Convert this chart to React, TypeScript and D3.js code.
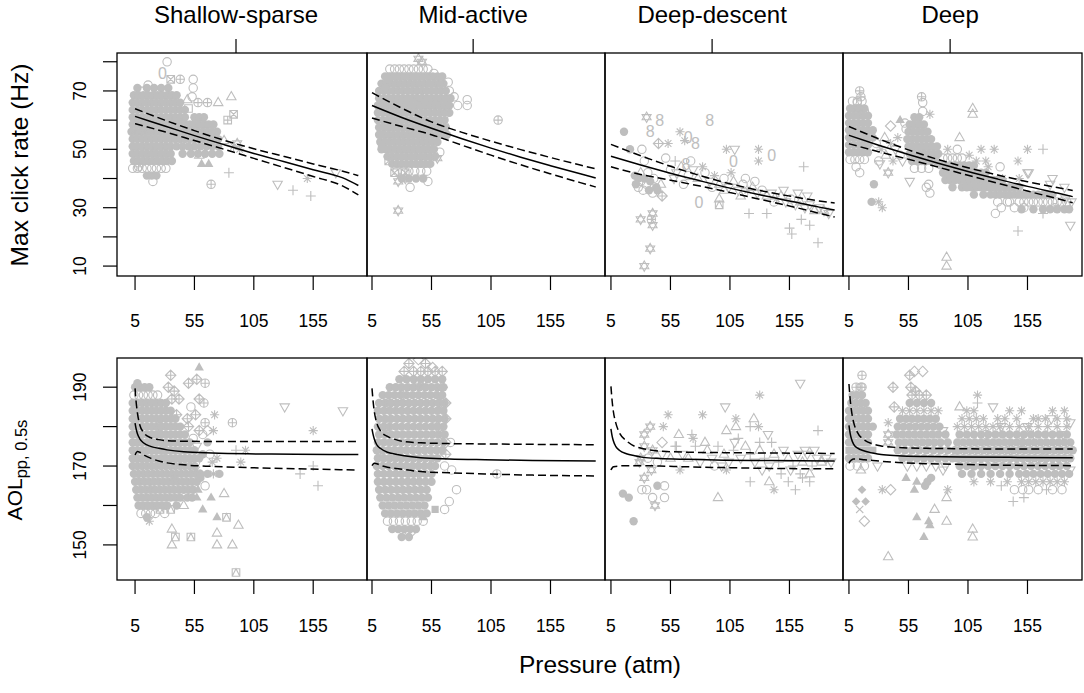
import * as d3 from 'd3';

type Pch = number | string;
type Pt = [number, number, Pch];
type Row = [number, number[], Pch];

const panelTitles = ['Shallow-sparse', 'Mid-active', 'Deep-descent', 'Deep'];
const xTicks = [5, 55, 105, 155];
const titleTickAt = 90;
const clickTicks = [10, 20, 30, 40, 50, 60, 70, 80];
const clickLabels = [10, 30, 50, 70];
const aolTicks = [150, 160, 170, 180, 190];
const aolLabels = [150, 170, 190];

// fitted curves (top row: max click rate, bottom row: AOL)
const fitXTop = [5, 30, 55, 80, 105, 130, 155, 180, 193];
const clickShallowFit = [61.3, 58.0, 54.7, 51.6, 48.6, 45.8, 43.0, 40.2, 37.6];
const clickShallowHi = [63.9, 60.0, 56.4, 53.1, 50.2, 47.6, 45.0, 42.5, 41.0];
const clickShallowLo = [58.8, 56.0, 53.0, 50.0, 46.9, 43.8, 40.7, 37.4, 34.4];
const clickMidFit = [65.0, 60.9, 57.2, 53.7, 50.4, 47.3, 44.4, 41.6, 40.2];
const clickMidHi = [69.4, 64.1, 59.4, 55.9, 52.8, 49.9, 47.2, 44.6, 43.3];
const clickMidLo = [60.7, 57.8, 55.0, 51.5, 48.0, 44.7, 41.6, 38.6, 37.1];
const clickDescentFit = [47.6, 44.6, 41.8, 39.2, 36.7, 34.4, 32.3, 30.2, 29.2];
const clickDescentHi = [51.7, 47.8, 44.2, 41.0, 38.2, 35.9, 34.0, 32.3, 31.6];
const clickDescentLo = [44.0, 41.4, 39.4, 37.4, 35.2, 32.9, 30.6, 28.1, 26.8];
const clickDeepFit = [54.8, 51.4, 48.2, 45.2, 42.4, 39.8, 37.3, 35.0, 33.8];
const clickDeepHi = [57.8, 53.6, 49.8, 46.5, 43.7, 41.2, 38.9, 36.9, 35.9];
const clickDeepLo = [51.9, 49.2, 46.6, 43.9, 41.1, 38.4, 35.7, 33.1, 31.7];

const fitXBot = [5, 6, 7, 9, 12, 18, 25, 32, 46, 70, 100, 140, 193];
const aolShallowFit = [180.9, 179.3, 178.2, 176.9, 175.9, 175.0, 174.5, 174.1, 173.6, 173.3, 173.1, 173.0, 172.9];
const aolShallowHi = [189.7, 186.0, 183.5, 180.4, 178.6, 177.2, 176.7, 176.4, 176.3, 176.2, 176.2, 176.2, 176.2];
const aolShallowLo = [172.8, 173.4, 173.7, 173.5, 172.9, 172.0, 171.3, 170.8, 170.3, 169.9, 169.6, 169.3, 169.0];
const aolMidFit = [179.4, 177.9, 176.8, 175.4, 174.5, 173.5, 173.0, 172.6, 172.1, 171.8, 171.6, 171.4, 171.3];
const aolMidHi = [189.7, 186.2, 183.7, 180.9, 179.0, 177.5, 176.7, 176.2, 175.9, 175.7, 175.6, 175.5, 175.4];
const aolMidLo = [170.1, 170.5, 170.7, 170.6, 170.2, 169.7, 169.4, 169.1, 168.6, 168.3, 168.0, 167.7, 167.5];
const aolDescentFit = [179.4, 177.6, 176.4, 175.0, 174.0, 173.1, 172.6, 172.2, 171.9, 171.7, 171.5, 171.4, 171.3];
const aolDescentHi = [190.2, 186.5, 183.9, 181.0, 178.5, 176.4, 175.0, 174.4, 173.8, 173.5, 173.4, 173.3, 173.2];
const aolDescentLo = [169.0, 169.5, 169.8, 169.9, 170.0, 170.1, 170.1, 170.1, 170.0, 169.8, 169.6, 169.4, 169.3];
const aolDeepFit = [180.3, 178.3, 177.0, 175.5, 174.6, 173.8, 173.3, 172.9, 172.6, 172.4, 172.3, 172.2, 172.1];
const aolDeepHi = [190.8, 187.0, 184.3, 181.0, 178.6, 176.6, 175.6, 175.1, 174.7, 174.5, 174.4, 174.3, 174.3];
const aolDeepLo = [170.7, 171.2, 171.5, 171.8, 171.8, 171.6, 171.4, 171.2, 170.9, 170.6, 170.4, 170.2, 170.1];

// observations: dense clouds as rows [y, xs, pch], scattered points as [x, y, pch]
const clickShallowRows: Row[] = [
  [71, [7, 15, 21, 27, 33], 16],
  [68.5, [4, 8, 12, 16, 20, 24, 28, 32, 36, 40], 16],
  [66, [3, 7, 11, 15, 19, 23, 27, 31, 35, 39, 43], 16],
  [64.8, [5, 13, 21, 29, 37], 0],
  [63.5, [3, 7, 11, 15, 19, 23, 27, 31, 35, 39, 43, 47], 16],
  [61, [3, 7, 11, 15, 19, 23, 27, 31, 35, 39, 43, 47, 55, 59, 63], 16],
  [59.8, [9, 17, 25, 33, 41, 57], 0],
  [58.5, [3, 7, 11, 15, 19, 23, 27, 31, 35, 39, 43, 47, 51, 55, 59, 63, 67, 71], 16],
  [56, [2, 6, 10, 14, 18, 22, 26, 30, 34, 38, 42, 46, 50, 54, 58, 62, 66, 70, 74], 16],
  [54.8, [5, 13, 21, 29, 37, 45, 61, 69], 10],
  [53.5, [3, 7, 11, 15, 19, 23, 27, 31, 35, 39, 43, 47, 51, 55, 59, 63, 67, 71, 75], 16],
  [51, [3, 7, 11, 15, 19, 23, 27, 31, 35, 40, 45, 50, 55, 60, 65, 70, 75], 16],
  [49.8, [9, 17, 25, 33, 48, 56], 0],
  [48.5, [3, 7, 11, 15, 19, 23, 27, 31, 35, 45, 52, 58, 64, 70, 76], 16],
  [46, [4, 8, 12, 16, 20, 24, 28, 32, 36], 16],
  [43.5, [3, 7, 11, 15, 19, 23, 27, 31], 1],
  [41, [15, 19, 23], 16],
];
const clickShallowOut: Pt[] = [
  [32, 80, 1], [28, 76, '0'], [35, 74, 7], [43, 74, 10], [54, 74, 1], [16, 72, 1], [11, 70, 0], [54, 71, 1],
  [53, 68, 1], [58, 66, 10], [66, 66, 10], [75, 66, 2], [86, 68, 2], [49, 67, 2], [50, 64, 0], [88, 62, 7],
  [83, 60, 12], [80, 53, 2], [88, 51, 8], [91, 52, 11], [93, 50, 8], [84, 42, 3], [69, 38, 10], [125, 38, 6],
  [138, 36, 3], [153, 34, 3], [150, 40, 8], [174, 42, 6], [61, 45, 17], [67, 45, 17], [59, 48, 2], [48, 55, 0],
  [20, 39, 1], [8, 44, 10],
];

const clickMidRows: Row[] = [
  [77.5, [20, 24, 28, 32, 36, 40, 44, 48, 52], 1],
  [75, [16, 20, 24, 28, 32, 36, 40, 44, 48, 52, 56, 60, 64], 16],
  [72.5, [13, 17, 21, 25, 29, 33, 37, 41, 45, 49, 53, 57, 61, 65], 16],
  [70, [11, 15, 19, 23, 27, 31, 35, 39, 43, 47, 51, 55, 59, 63, 67], 16],
  [67.5, [11, 15, 19, 23, 27, 31, 35, 39, 43, 47, 51, 55, 59, 63, 67, 71], 16],
  [65, [10, 14, 18, 22, 26, 30, 34, 38, 42, 46, 50, 54, 58, 62, 66, 70], 16],
  [62.5, [10, 14, 18, 22, 26, 30, 34, 38, 42, 46, 50, 54, 58, 62, 66, 70], 16],
  [60, [10, 14, 18, 22, 26, 30, 34, 38, 42, 46, 50, 54, 58, 62, 66], 16],
  [57.5, [11, 15, 19, 23, 27, 31, 35, 39, 43, 47, 51, 55, 59, 63, 67], 16],
  [55, [11, 15, 19, 23, 27, 31, 35, 39, 43, 47, 51, 55, 59, 63, 68], 16],
  [52.5, [12, 16, 20, 24, 28, 32, 36, 40, 44, 48, 52, 56, 60], 16],
  [50, [13, 17, 21, 25, 29, 33, 37, 41, 45, 49, 53, 57], 16],
  [47.5, [18, 22, 26, 30, 34, 38, 42, 46, 50, 54, 58], 16],
  [45, [22, 26, 30, 34, 38, 42, 46, 50, 54], 16],
  [42.5, [26, 31, 36, 41, 46, 51], 1],
  [40, [30, 36, 42, 48], 16],
];
const clickMidOut: Pt[] = [
  [27, 29, 11], [44, 81, 11], [47, 80, 11], [111, 60, 10], [85, 67, 1], [85, 65, 1], [74, 68, 1], [77, 65, 1],
  [70, 70, 1], [69, 73, 1], [13, 51, 15], [12, 55, 15], [19, 46, 7], [24, 42, 7], [33, 42, 7], [27, 39, 11],
  [33, 40, 11], [37, 37, 1], [52, 39, 1], [60, 47, 11], [62, 49, 1], [18, 74, 16], [16, 71, 16], [66, 58, 1],
  [57, 76, 1], [63, 72, 1], [66, 62, 1], [21, 60, 0], [45, 68, 1], [37, 63, 1],
];

const clickDescentOut: Pt[] = [
  [35, 61, 11], [46, 60, '8'], [38, 56, '8'], [16, 56, 16], [88, 60, '8'], [63, 56, 8], [67, 53, 8], [70, 54, '0'],
  [76, 52, '8'], [45, 52, 9], [53, 52, 8], [21, 50, 16], [31, 50, 1], [102, 50, 8], [109, 50, 6], [108, 46, '0'],
  [129, 50, 8], [129, 46, 8], [140, 48, '0'], [167, 44, 3], [33, 46, 1], [51, 47, 1], [59, 46, 3], [68, 45, '8'],
  [82, 44, 8], [25, 41, 16], [28, 40, 16], [30, 39, 1], [33, 40, 16], [35, 38, 1], [38, 39, 16], [41, 40, 1],
  [43, 37, 16], [28, 37, 1], [32, 36, 1], [37, 36, 16], [40, 35, 1], [44, 36, 16], [47, 38, 2], [26, 38, 16],
  [30, 42, 2], [36, 42, 1], [48, 34, 9], [79, 32, '0'], [96, 31, 14], [96, 33, 2], [121, 28, 3], [136, 28, 3],
  [155, 23, 3], [165, 26, 3], [172, 24, 3], [157, 21, 3], [179, 18, 3], [30, 26, 11], [40, 28, 11], [40, 24, 11],
  [38, 16, 11], [33, 10, 11], [39, 26, 10],
  [55, 43, 1], [60, 42, 6], [64, 44, 2], [70, 41, 1], [74, 43, 6], [78, 40, 2], [84, 42, 1], [88, 39, 6],
  [92, 41, 8], [96, 38, 2], [100, 40, 1], [104, 37, 6], [108, 39, 2], [112, 36, 6], [116, 38, 1], [120, 36, 8],
  [124, 37, 2], [128, 35, 6], [132, 36, 1], [136, 34, 2], [140, 35, 6], [144, 33, 8], [148, 34, 2], [152, 32, 6],
  [156, 33, 1], [160, 31, 6], [164, 32, 2], [168, 30, 6], [172, 31, 6], [176, 29, 2], [180, 30, 6], [184, 29, 11],
  [188, 28, 6], [162, 35, 6], [170, 34, 6], [100, 36, 2], [106, 42, 8], [118, 40, 1], [126, 39, 1], [58, 40, 6],
  [66, 38, 1], [72, 46, 1], [90, 37, 1], [114, 34, 2], [142, 32, 1], [150, 36, 6],
];

const clickDeepRows: Row[] = [
  [66.5, [8, 12, 16], 1],
  [64, [6, 10, 14, 18], 16],
  [61.5, [5, 9, 13, 17, 21], 16],
  [59, [5, 9, 13, 17, 21], 16],
  [56.5, [5, 9, 13, 17, 21, 25], 16],
  [54, [5, 9, 13, 17, 21, 25], 16],
  [51.5, [5, 9, 13, 17, 21], 16],
  [49, [5, 9, 13, 17, 21], 16],
  [46.5, [6, 10, 14, 18], 1],
  [61, [60, 64], 16],
  [58.5, [56, 60, 64, 68], 16],
  [56, [55, 59, 63, 67, 71], 16],
  [53.5, [54, 58, 62, 66, 70, 74], 16],
  [51, [55, 59, 63, 67, 71, 75, 79], 16],
  [48.5, [56, 60, 64, 68, 72, 76, 80], 16],
  [46, [58, 62, 66, 70, 74, 78], 16],
  [43.5, [60, 66, 72], 1],
  [47, [84, 88, 92, 96, 100], 1],
  [44.5, [82, 86, 90, 94, 98, 102, 106, 110], 16],
  [42, [84, 88, 92, 96, 100, 104, 108, 112, 116, 120], 16],
  [39.5, [86, 90, 94, 98, 102, 106, 110, 114, 118, 122, 126, 130, 134], 16],
  [37, [92, 100, 104, 108, 112, 116, 120, 124, 128, 132, 136, 140, 144, 148], 16],
  [34.5, [110, 118, 124, 128, 132, 136, 140, 144, 148, 152, 156, 160, 164, 168, 172, 176], 16],
  [32, [130, 140, 148, 152, 156, 160, 164, 168, 172, 176, 180, 184, 188], 1],
  [29.5, [150, 160, 168, 174, 180, 186, 190], 16],
];
const clickDeepOut: Pt[] = [
  [14, 70, 10], [15, 68, 10], [12, 66, 1], [13, 64, 1], [18, 63, 1], [11, 44, 1], [14, 42, 1], [26, 38, 16],
  [24, 32, 16], [33, 30, 8], [30, 32, 8], [31, 45, 6], [38, 42, 11], [56, 39, 6], [40, 58, 5], [48, 60, 17],
  [53, 57, 1], [52, 59, 1], [66, 68, 10], [67, 66, 1], [67, 63, 1], [73, 62, 8], [72, 38, 1], [73, 35, 1],
  [70, 37, 1], [109, 64, 2], [109, 62, 2], [98, 54, 2], [87, 13, 2], [87, 10, 2], [147, 22, 3], [168, 28, 3],
  [128, 28, 1], [133, 30, 1], [191, 24, 6], [155, 50, 8], [168, 50, 3], [147, 46, 8], [116, 50, 8], [127, 50, 8],
  [176, 40, 6], [155, 42, 6], [187, 33, 6], [28, 52, 1], [32, 50, 8], [36, 48, 2], [40, 52, 8], [44, 50, 6],
  [48, 48, 1], [30, 46, 1], [42, 46, 8], [46, 54, 8], [50, 46, 6], [35, 54, 2], [88, 50, 8], [96, 50, 1],
  [106, 48, 8], [112, 46, 8], [120, 46, 8], [132, 44, 1], [122, 44, 8], [134, 40, 8], [148, 40, 8], [156, 42, 6],
  [174, 38, 6], [186, 37, 6], [138, 32, 1], [144, 30, 1], [152, 30, 1], [178, 30, 1], [192, 32, 6],
];

const aolShallowRows: Row[] = [
  [190, [5, 9, 13, 17], 16],
  [188, [4, 8, 12, 16, 20, 24], 1],
  [186, [3, 7, 11, 15, 19, 23, 27, 31], 16],
  [184, [3, 7, 11, 15, 19, 23, 27, 31, 35], 16],
  [182, [3, 7, 11, 15, 19, 23, 27, 31, 35, 39], 16],
  [180, [3, 7, 11, 15, 19, 23, 27, 31, 35, 39, 43], 16],
  [178, [3, 7, 11, 15, 19, 23, 27, 31, 35, 39, 43, 47], 16],
  [176, [3, 7, 11, 15, 19, 23, 27, 31, 35, 39, 43, 47, 51], 16],
  [174, [3, 7, 11, 15, 19, 23, 27, 31, 35, 39, 43, 47, 51, 55], 16],
  [172, [3, 7, 11, 15, 19, 23, 27, 31, 35, 39, 43, 47, 51, 55, 59], 16],
  [170, [3, 7, 11, 15, 19, 23, 27, 31, 35, 39, 43, 47, 51, 55], 16],
  [168, [4, 8, 12, 16, 20, 24, 28, 32, 36, 40, 44, 48, 52, 56, 60], 16],
  [166, [5, 9, 13, 17, 21, 25, 29, 33, 37, 41, 45, 49, 53, 57], 16],
  [164, [6, 10, 14, 18, 22, 26, 30, 34, 38, 42, 46, 50, 54], 16],
  [162, [7, 11, 15, 19, 23, 27, 31, 35, 39, 43, 49, 53], 16],
  [160, [8, 12, 16, 20, 24, 28, 32, 40], 16],
  [158, [10, 14, 18, 22, 30], 1],
];
const aolShallowOut: Pt[] = [
  [59, 195, 17], [35, 193, 9], [33, 190, 9], [38, 189, 9], [42, 187, 9], [36, 187, 9], [50, 191, 9], [57, 192, 9],
  [64, 191, 10], [59, 187, 9], [63, 186, 10], [40, 183, 9], [49, 182, 9], [50, 180, 9], [59, 179, 9], [64, 181, 10],
  [87, 181, 10], [72, 183, 8], [71, 179, 8], [70, 171, 8], [71, 168, 8], [98, 174, 8], [94, 171, 8], [57, 169, 8],
  [38, 167, 8], [155, 179, 8], [131, 185, 6], [180, 184, 6], [57, 175, 6], [7, 191, 16], [4, 182, 1], [90, 174, 3],
  [155, 170, 3], [144, 168, 3], [159, 165, 3], [80, 163, 2], [92, 155, 2], [74, 153, 2], [74, 150, 2], [87, 150, 2],
  [36, 154, 2], [36, 150, 2], [46, 160, 2], [69, 162, 17], [74, 157, 17], [62, 159, 17], [57, 162, 17], [82, 157, 14],
  [52, 152, 14], [39, 152, 14], [90, 143, 14], [35, 159, 14], [26, 159, 14], [17, 156, 8], [15, 157, 16],
  [52, 185, 1], [56, 183, 9], [62, 178, 1], [66, 176, 16], [68, 173, 1], [62, 173, 16], [56, 171, 1], [60, 167, 16],
  [64, 165, 1], [58, 164, 17], [66, 168, 16], [54, 177, 1], [74, 172, 8], [76, 168, 16], [66, 179, 5],
  [14, 177, 0], [22, 171, 0], [10, 167, 14], [30, 174, 1], [26, 180, 1], [18, 164, 2],
];

const aolMidRows: Row[] = [
  [194, [32, 40, 46, 52, 58, 64], 9],
  [192, [28, 34, 40, 46, 52, 58, 64], 16],
  [190, [20, 25, 30, 35, 40, 45, 50, 55, 60, 65], 16],
  [188, [14, 19, 24, 29, 34, 39, 44, 49, 54, 59, 64], 16],
  [186, [11, 16, 21, 26, 31, 36, 41, 46, 51, 56, 61, 66], 16],
  [184, [10, 15, 20, 25, 30, 35, 40, 45, 50, 55, 60, 65], 16],
  [182, [11, 16, 21, 26, 31, 36, 41, 46, 51, 56, 61, 66], 16],
  [180, [10, 15, 20, 25, 30, 35, 40, 45, 50, 55, 60, 65], 16],
  [178, [11, 16, 21, 26, 31, 36, 41, 46, 51, 56, 61, 66], 16],
  [176, [10, 15, 20, 25, 30, 35, 40, 45, 50, 55, 60, 65], 16],
  [174, [9, 14, 19, 24, 29, 34, 39, 44, 49, 54, 59, 64], 16],
  [172, [10, 15, 20, 25, 30, 35, 40, 45, 50, 55, 60], 16],
  [170, [9, 14, 19, 24, 29, 34, 39, 44, 49, 54, 58], 16],
  [168, [10, 15, 20, 25, 30, 35, 40, 45, 50, 55], 16],
  [166, [10, 15, 20, 25, 30, 35, 40, 45, 50, 55], 16],
  [164, [11, 16, 21, 26, 31, 36, 41, 46, 51], 16],
  [162, [12, 17, 22, 27, 32, 37, 42, 47, 52], 16],
  [160, [14, 19, 24, 29, 34, 39, 44, 49], 16],
  [158, [16, 21, 26, 31, 36, 41, 46, 51], 16],
  [156, [18, 23, 28, 33, 38, 43, 48], 1],
  [154, [22, 27, 32, 37, 42], 16],
  [152, [30, 36], 16],
];
const aolMidOut: Pt[] = [
  [36, 196, 9], [44, 197, 5], [50, 196, 9], [56, 195, 5], [19, 186, 7], [21, 185, 0], [17, 180, 0], [12, 173, 12],
  [71, 176, 1], [66, 170, 1], [72, 169, 1], [76, 164, 1], [70, 161, 1], [66, 159, 1], [110, 168, 10], [48, 157, 17],
  [58, 159, 15], [37, 153, 5], [67, 186, 9], [67, 182, 9], [67, 176, 5], [67, 173, 9], [64, 190, 5], [62, 186, 9],
  [60, 180, 5], [64, 178, 9], [62, 188, 5], [44, 191, 9], [30, 188, 5], [26, 175, 0], [40, 167, 0],
];

const aolDescentOut: Pt[] = [
  [164, 191, 6], [130, 188, 8], [53, 183, 8], [49, 180, 8], [82, 183, 8], [110, 182, 8], [129, 180, 8], [74, 177, 8],
  [63, 169, 8], [142, 164, 8], [102, 169, 8], [101, 185, 6], [137, 178, 6], [168, 174, 6], [109, 176, 6], [98, 170, 6],
  [125, 182, 2], [110, 180, 2], [102, 179, 2], [62, 178, 2], [84, 176, 2], [95, 162, 2], [138, 166, 2], [172, 168, 2],
  [179, 179, 3], [122, 180, 3], [73, 178, 3], [59, 175, 3], [122, 166, 3], [160, 164, 3], [154, 166, 3], [166, 167, 3],
  [172, 166, 3], [140, 176, 3], [130, 176, 3], [38, 180, 11], [33, 178, 11], [33, 175, 11], [29, 171, 11], [33, 167, 11],
  [42, 160, 11], [39, 169, 11], [31, 164, 1], [35, 164, 1], [40, 162, 1], [50, 165, 1], [50, 162, 1], [15, 163, 16],
  [20, 162, 16], [24, 156, 16], [44, 165, 16], [48, 176, 5],
  [30, 172, 11], [36, 172, 1], [40, 174, 11], [44, 171, 1], [48, 173, 6], [55, 172, 2], [60, 175, 3], [65, 173, 6],
  [70, 172, 2], [76, 175, 3], [80, 171, 6], [86, 174, 2], [90, 172, 6], [95, 175, 3], [100, 173, 2], [104, 171, 6],
  [108, 174, 3], [114, 172, 6], [118, 175, 2], [122, 173, 3], [126, 171, 6], [130, 174, 2], [134, 172, 3], [138, 170, 6],
  [142, 173, 2], [146, 171, 3], [150, 174, 6], [154, 172, 2], [158, 170, 3], [162, 173, 6], [166, 171, 2], [170, 173, 6],
  [174, 170, 3], [178, 172, 6], [182, 171, 2], [186, 172, 6], [190, 171, 6], [148, 168, 3], [156, 169, 6], [164, 168, 3],
  [112, 177, 3], [92, 170, 1], [132, 169, 6], [176, 174, 6],
];

const aolDeepRows: Row[] = [
  [190, [11, 15], 10],
  [188, [8, 12, 16], 16],
  [186, [7, 11, 15, 19], 16],
  [184, [5, 9, 13, 17, 21], 16],
  [182, [5, 9, 13, 17, 21], 16],
  [180, [5, 9, 13, 17, 21, 25], 16],
  [178, [5, 9, 13, 17, 21], 16],
  [176, [5, 9, 13, 17, 21], 16],
  [174, [5, 9, 13, 17, 21, 25], 15],
  [172, [5, 9, 13, 17, 21], 16],
  [170, [6, 12, 18], 1],
  [188, [58, 64, 70], 9],
  [186, [56, 62, 68, 74], 16],
  [184, [50, 56, 62, 68, 74, 80], 8],
  [182, [48, 53, 58, 63, 68, 73, 78], 16],
  [180, [46, 51, 56, 61, 66, 71, 76, 81], 16],
  [178, [45, 50, 55, 60, 65, 70, 75, 80, 86], 16],
  [176, [47, 52, 57, 62, 67, 72, 77, 82, 88], 16],
  [174, [46, 52, 58, 64, 70, 76, 82, 88, 94], 16],
  [172, [50, 56, 62, 68, 74, 80, 86, 92], 16],
  [170, [54, 62, 70, 78, 86], 6],
  [184, [104, 110, 140, 150, 176, 186], 8],
  [182, [100, 106, 112, 118, 130, 136, 146, 160, 170, 180, 188], 8],
  [180, [96, 102, 108, 114, 120, 126, 132, 140, 148, 156, 164, 172, 180, 188], 8],
  [178, [98, 104, 110, 116, 122, 128, 134, 140, 146, 152, 158, 164, 170, 176, 182, 188], 16],
  [176, [96, 101, 106, 111, 116, 121, 126, 131, 136, 141, 146, 151, 156, 161, 166, 171, 176, 181, 186, 191], 16],
  [174, [98, 103, 108, 113, 118, 123, 128, 133, 138, 143, 148, 153, 158, 163, 168, 173, 178, 183, 188, 193], 16],
  [172, [96, 101, 106, 111, 116, 121, 126, 131, 136, 141, 146, 151, 156, 161, 166, 171, 176, 181, 186, 191], 16],
  [170, [98, 104, 110, 116, 122, 128, 134, 140, 146, 152, 158, 164, 170, 176, 182, 188], 16],
  [168, [100, 108, 116, 124, 132, 140, 148, 154, 160, 166, 172, 178, 184, 190], 16],
  [166, [110, 124, 138, 150, 156, 162, 168, 174, 180, 186], 8],
  [164, [156, 164, 176, 184], 1],
];
const aolDeepOut: Pt[] = [
  [16, 193, 10], [16, 190, 10], [60, 194, 5], [67, 194, 5], [56, 193, 9], [57, 190, 9], [61, 189, 9], [42, 190, 9],
  [43, 185, 9], [113, 188, 8], [113, 186, 3], [98, 185, 2], [126, 185, 6], [133, 180, 6], [155, 180, 6], [175, 182, 6],
  [191, 181, 6], [185, 178, 6], [84, 179, 6], [29, 170, 6], [84, 169, 6], [191, 169, 6], [164, 182, 8], [38, 181, 8],
  [33, 164, 8], [88, 164, 8], [40, 164, 5], [38, 147, 2], [109, 154, 2], [109, 152, 2], [87, 156, 2], [77, 159, 2],
  [87, 162, 2], [15, 169, 2], [53, 167, 17], [60, 164, 17], [62, 166, 17], [62, 157, 17], [72, 156, 17], [73, 155, 17],
  [68, 152, 17], [16, 164, 18], [11, 161, 18], [19, 161, 18], [14, 159, 4], [18, 156, 5], [144, 164, 1], [151, 164, 1],
  [143, 161, 3], [152, 162, 3], [133, 165, 3], [171, 164, 3], [71, 166, 16], [69, 165, 16], [74, 167, 16], [38, 178, 11],
  [38, 176, 11], [120, 178, 1], [150, 176, 1], [170, 172, 1], [110, 170, 1], [140, 174, 8], [160, 178, 8], [180, 170, 8],
];

const GREY = '#bebebe';
const FONT = "'Liberation Sans', Arial, Helvetica, sans-serif";
const W = 1084;
const H = 693;

const colLeft = [117, 367, 605, 843];
const colRight = [367, 605, 843, 1082];
const xDomains: [number, number][] = [[-10.2, 200.3], [0.8, 200.8], [0, 200], [0, 200.8]];
const rowTop = [53, 358];
const rowBottom = [276, 580];
const yDomains: [number, number][] = [[6.6, 83], [141.1, 197.4]];

const expand = (rows: Row[]): Pt[] => rows.flatMap(([y, xs, p]) => xs.map((x) => [x, y, p] as Pt));

const panels = [
  { row: 0, col: 0, pts: [...expand(clickShallowRows), ...clickShallowOut], fx: fitXTop, fit: clickShallowFit, hi: clickShallowHi, lo: clickShallowLo },
  { row: 0, col: 1, pts: [...expand(clickMidRows), ...clickMidOut], fx: fitXTop, fit: clickMidFit, hi: clickMidHi, lo: clickMidLo },
  { row: 0, col: 2, pts: clickDescentOut, fx: fitXTop, fit: clickDescentFit, hi: clickDescentHi, lo: clickDescentLo },
  { row: 0, col: 3, pts: [...expand(clickDeepRows), ...clickDeepOut], fx: fitXTop, fit: clickDeepFit, hi: clickDeepHi, lo: clickDeepLo },
  { row: 1, col: 0, pts: [...expand(aolShallowRows), ...aolShallowOut], fx: fitXBot, fit: aolShallowFit, hi: aolShallowHi, lo: aolShallowLo },
  { row: 1, col: 1, pts: [...expand(aolMidRows), ...aolMidOut], fx: fitXBot, fit: aolMidFit, hi: aolMidHi, lo: aolMidLo },
  { row: 1, col: 2, pts: aolDescentOut, fx: fitXBot, fit: aolDescentFit, hi: aolDescentHi, lo: aolDescentLo },
  { row: 1, col: 3, pts: [...expand(aolDeepRows), ...aolDeepOut], fx: fitXBot, fit: aolDeepFit, hi: aolDeepHi, lo: aolDeepLo },
];

const SQ = 'M-3.8,-3.8H3.8V3.8H-3.8Z';
const TRI = 'M0,-5.2L4.7,3L-4.7,3Z';
const ITRI = 'M0,5.2L4.7,-3L-4.7,-3Z';
const DIAM = 'M0,-5.2L5.2,0L0,5.2L-5.2,0Z';
const shapePaths: Record<number, string> = {
  0: SQ,
  2: TRI,
  3: 'M-5,0H5M0,-5V5',
  4: 'M-3.6,-3.6L3.6,3.6M-3.6,3.6L3.6,-3.6',
  5: DIAM,
  6: ITRI,
  7: SQ + 'M-3.8,-3.8L3.8,3.8M-3.8,3.8L3.8,-3.8',
  8: 'M-4.6,0H4.6M0,-4.6V4.6M-3.3,-3.3L3.3,3.3M-3.3,3.3L3.3,-3.3',
  9: DIAM + 'M-5.2,0H5.2M0,-5.2V5.2',
  11: 'M0,-5.2L4.5,2.6L-4.5,2.6ZM0,5.2L4.5,-2.6L-4.5,-2.6Z',
  12: SQ + 'M-3.8,0H3.8M0,-3.8V3.8',
  14: SQ + 'M-3.8,3.8L0,-3.8L3.8,3.8',
};

function Mark({ x, y, p }: { x: number; y: number; p: Pch }) {
  const t = `translate(${x.toFixed(1)},${y.toFixed(1)})`;
  if (typeof p === 'string') {
    return (
      <text transform={t} y={5.6} textAnchor="middle" fontSize={16} fill={GREY} fontFamily={FONT}>
        {p}
      </text>
    );
  }
  const open = { fill: 'none', stroke: GREY, strokeWidth: 1.1 };
  if (p === 1) return <circle transform={t} r={4.2} {...open} />;
  if (p === 10)
    return (
      <g transform={t} {...open}>
        <circle r={4.2} />
        <path d="M-4.2,0H4.2M0,-4.2V4.2" />
      </g>
    );
  if (p === 13)
    return (
      <g transform={t} {...open}>
        <circle r={4.2} />
        <path d="M-3,-3L3,3M-3,3L3,-3" />
      </g>
    );
  if (p === 15) return <path transform={t} d="M-3.6,-3.6H3.6V3.6H-3.6Z" fill={GREY} />;
  if (p === 16) return <circle transform={t} r={4.2} fill={GREY} />;
  if (p === 17) return <path transform={t} d={TRI} fill={GREY} />;
  if (p === 18) return <path transform={t} d="M0,-4.3L4.3,0L0,4.3L-4.3,0Z" fill={GREY} />;
  return <path transform={t} d={shapePaths[p] ?? SQ} {...open} />;
}

function Panel({ panel, idx }: { panel: (typeof panels)[number]; idx: number }) {
  const { row, col, pts, fx, fit, hi, lo } = panel;
  const x = d3.scaleLinear().domain(xDomains[col]).range([colLeft[col], colRight[col]]);
  const y = d3.scaleLinear().domain(yDomains[row]).range([rowBottom[row], rowTop[row]]);
  const line = d3
    .line<number>()
    .x((_, i) => x(fx[i]))
    .y((d) => y(d))
    .curve(d3.curveMonotoneX);
  const clipId = `clip-${idx}`;
  return (
    <g>
      <clipPath id={clipId}>
        <rect x={colLeft[col]} y={rowTop[row]} width={colRight[col] - colLeft[col]} height={rowBottom[row] - rowTop[row]} />
      </clipPath>
      <g clipPath={`url(#${clipId})`}>
        {pts.map((d, i) => (
          <Mark key={i} x={x(d[0])} y={y(d[1])} p={d[2]} />
        ))}
        <path d={line(fit) ?? ''} fill="none" stroke="#000" strokeWidth={1.5} />
        <path d={line(hi) ?? ''} fill="none" stroke="#000" strokeWidth={1.5} strokeDasharray="8 4" />
        <path d={line(lo) ?? ''} fill="none" stroke="#000" strokeWidth={1.5} strokeDasharray="8 4" />
      </g>
      {xTicks.map((t) => (
        <g key={t}>
          <line x1={x(t)} x2={x(t)} y1={rowBottom[row]} y2={rowBottom[row] + 14} stroke="#000" strokeWidth={1.2} />
          <text x={x(t)} y={row === 0 ? 327 : 631.5} textAnchor="middle" fontSize={17.5} fontFamily={FONT}>
            {t}
          </text>
        </g>
      ))}
      {row === 0 && (
        <g>
          <line x1={x(titleTickAt)} x2={x(titleTickAt)} y1={39} y2={rowTop[0]} stroke="#000" strokeWidth={1.2} />
          <text x={x(titleTickAt)} y={22.5} textAnchor="middle" fontSize={24} fontFamily={FONT}>
            {panelTitles[col]}
          </text>
        </g>
      )}
      {col === 0 &&
        (row === 0 ? clickTicks : aolTicks).map((t) => (
          <line key={t} x1={103} x2={colLeft[0]} y1={y(t)} y2={y(t)} stroke="#000" strokeWidth={1.2} />
        ))}
      {col === 0 &&
        (row === 0 ? clickLabels : aolLabels).map((t) => (
          <text
            key={t}
            transform={`translate(85.5,${y(t)}) rotate(-90)`}
            textAnchor="middle"
            fontSize={17.5}
            fontFamily={FONT}
          >
            {t}
          </text>
        ))}
      <rect
        x={colLeft[col]}
        y={rowTop[row]}
        width={colRight[col] - colLeft[col]}
        height={rowBottom[row] - rowTop[row]}
        fill="none"
        stroke="#000"
        strokeWidth={1.3}
      />
    </g>
  );
}

export default function App() {
  return (
    <svg
      width={W}
      height={H}
      viewBox={`0 0 ${W} ${H}`}
      style={{ position: 'absolute', left: 0, top: 0, background: '#fff' }}
    >
      <rect width={W} height={H} fill="#fff" />
      {panels.map((p, i) => (
        <Panel key={i} panel={p} idx={i} />
      ))}
      <text transform="translate(28,165) rotate(-90)" textAnchor="middle" fontSize={24.5} fontFamily={FONT}>
        Max click rate (Hz)
      </text>
      <text transform="translate(22,470) rotate(-90)" textAnchor="middle" fontSize={21} fontFamily={FONT}>
        AOL
        <tspan fontSize={16.5} dy={4.5}>
          pp, 0.5s
        </tspan>
      </text>
      <text x={600} y={673} textAnchor="middle" fontSize={24.5} fontFamily={FONT}>
        Pressure (atm)
      </text>
    </svg>
  );
}
